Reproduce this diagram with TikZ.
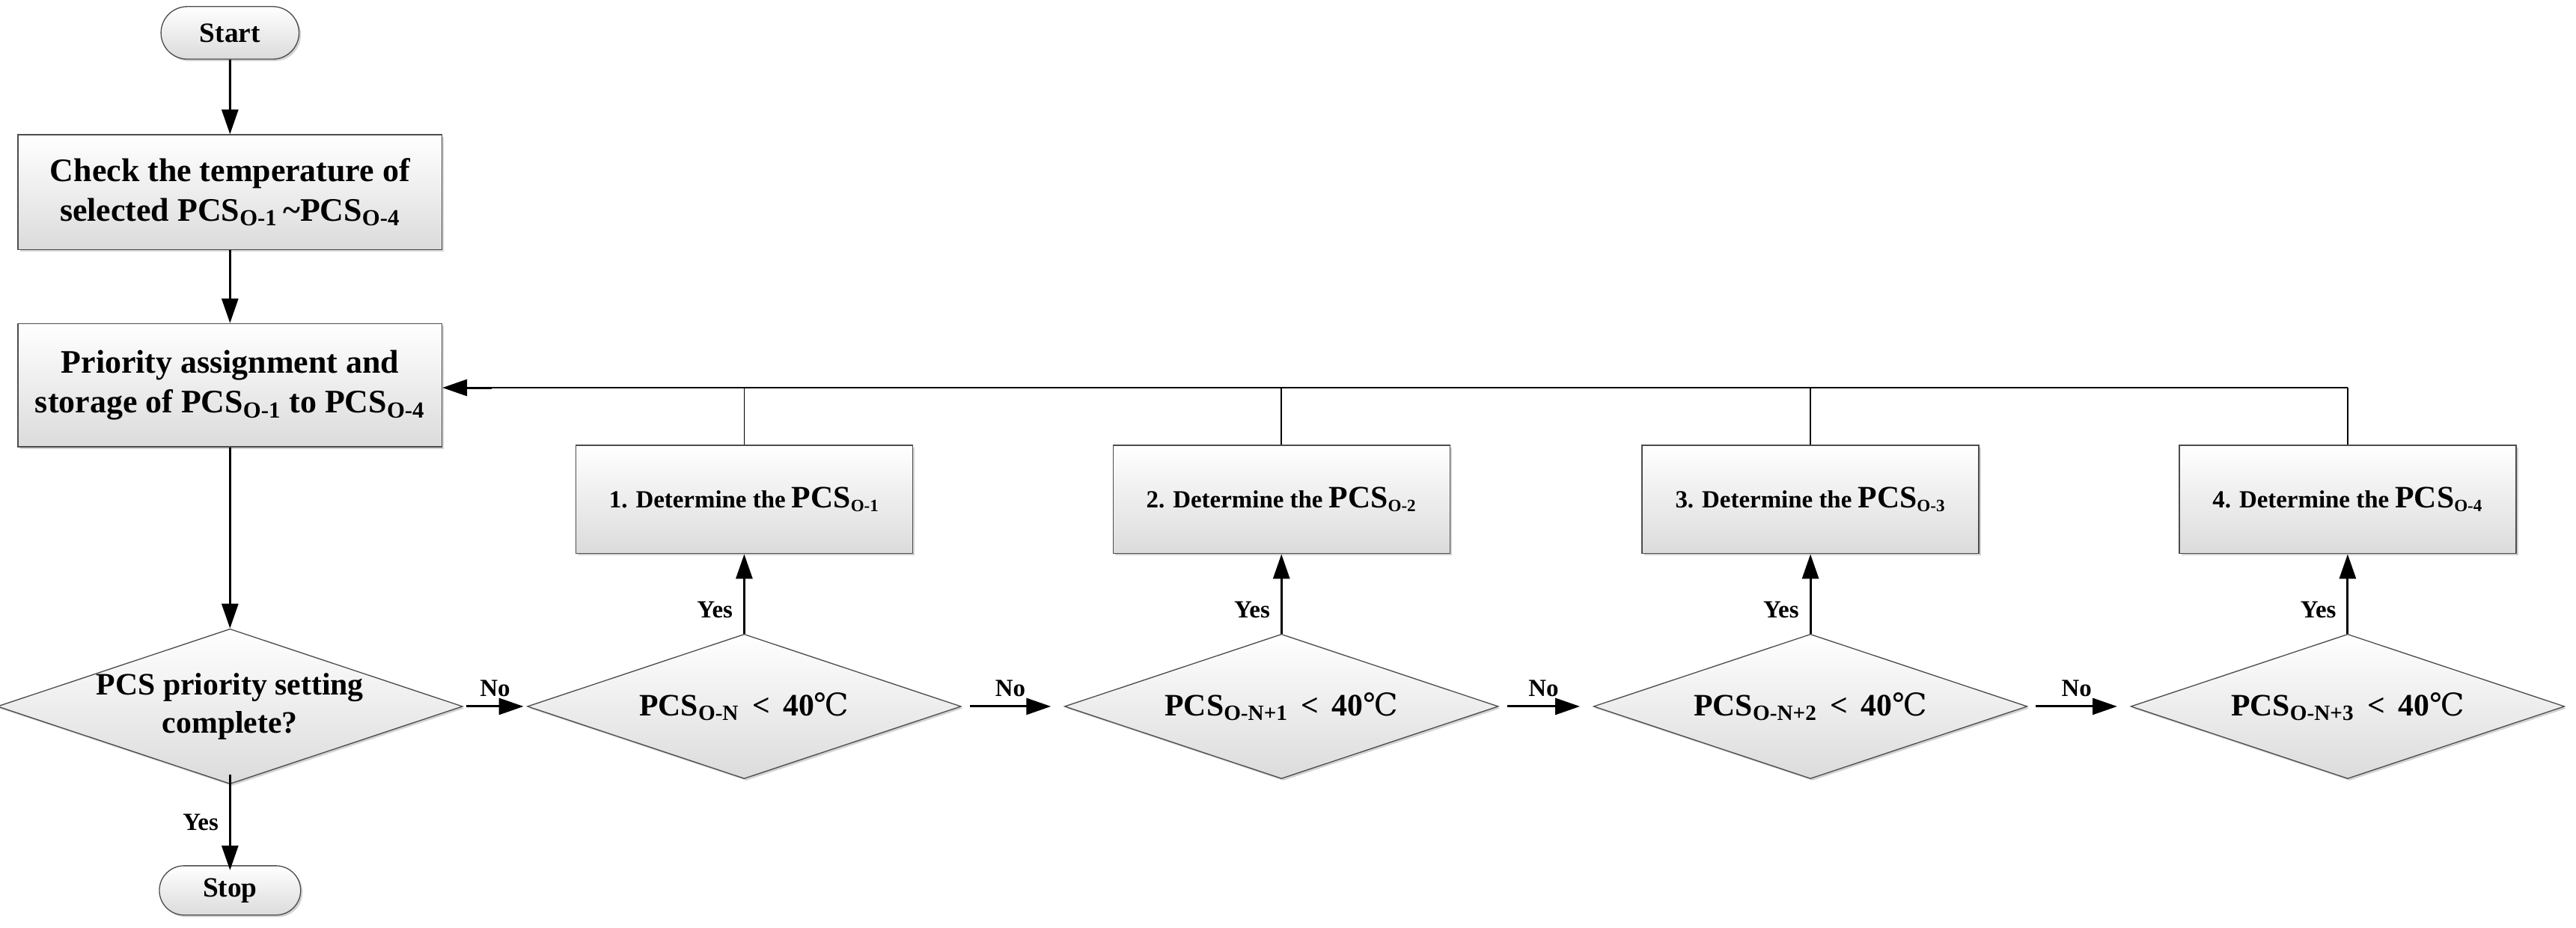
\documentclass[tikz,border=0pt]{standalone}
\usepackage{fontspec}
\setmainfont{Liberation Serif}
\newfontfamily\dvs{DejaVu Serif}
\usetikzlibrary{shapes.geometric,shapes.misc,shadows,arrows.meta}
\newcommand{\subo}[1]{\textsubscript{#1}}
\newcommand{\degc}{{\dvs\mdseries ℃}}
\begin{document}
\begin{tikzpicture}[x=1pt,y=-1pt,
  fillsh/.style={top color=white,bottom color=gray!28,draw=gray!60!black,line width=0.6pt,
     drop shadow={shadow xshift=1.2pt,shadow yshift=-1.2pt,opacity=0.35}},
  term/.style={fillsh,rounded rectangle,minimum width=84pt,minimum height=32pt,inner sep=0pt,font=\fontsize{17}{19}\selectfont\bfseries},
  box/.style={fillsh,rectangle,minimum width=258pt,inner sep=0pt,align=center,font=\fontsize{20}{24}\selectfont\bfseries},
  dbox/.style={fillsh,rectangle,minimum width=205pt,minimum height=66pt,inner sep=0pt,font=\fontsize{15}{17}\selectfont\bfseries},
  dia/.style={fillsh,diamond,aspect=3,minimum width=264pt,minimum height=88pt,inner sep=0pt,align=center,font=\fontsize{19}{23}\selectfont\bfseries},
  arr/.style={-{Triangle[length=15pt,width=10pt]},line width=1.4pt},
  ln/.style={line width=0.8pt},
  lab/.style={font=\fontsize{15}{17}\selectfont\bfseries}]
\useasboundingbox (0,0) rectangle (1568,564.5);
\node[term] (start) at (140,20) {Start};
\node[box,minimum height=70pt] (b1) at (140,117) {Check the temperature of\\selected PCS\subo{O-1}\,\textasciitilde PCS\subo{O-4}};
\node[box,minimum height=75pt] (b2) at (140,234.5) {Priority assignment and\\storage of PCS\subo{O-1} to PCS\subo{O-4}};
\node[dia] (d0) at (140,430) {PCS priority setting\\complete?};
\node[term,minimum width=86pt,minimum height=30pt] (stop) at (140,542) {Stop};
\node[dia] (d1) at (453,430) {PCS\subo{O-N} \,<\, 40\degc};
\node[dia] (d2) at (780,430) {PCS\subo{O-N+1} \,<\, 40\degc};
\node[dia] (d3) at (1102,430) {PCS\subo{O-N+2} \,<\, 40\degc};
\node[dia] (d4) at (1429,430) {PCS\subo{O-N+3} \,<\, 40\degc};
\node[dbox] (p1) at (453,304) {1. Determine the {\fontsize{19}{19}\selectfont PCS}\subo{O-1}};
\node[dbox] (p2) at (780,304) {2. Determine the {\fontsize{19}{19}\selectfont PCS}\subo{O-2}};
\node[dbox] (p3) at (1102,304) {3. Determine the {\fontsize{19}{19}\selectfont PCS}\subo{O-3}};
\node[dbox] (p4) at (1429,304) {4. Determine the {\fontsize{19}{19}\selectfont PCS}\subo{O-4}};
\coordinate (t4) at (1429,236);
\draw[arr] (start) -- (b1);
\draw[arr] (b1) -- (b2);
\draw[arr] (b2) -- (d0);
\draw[arr] ([yshift=6pt]d0.south) -- node[lab,left=3pt]{Yes} ([yshift=-3pt]stop.north);
\draw[arr] ([xshift=2pt]d0.east) -- node[lab,above=2pt]{No} ([xshift=-2pt]d1.west);
\draw[arr] ([xshift=5pt]d1.east) -- node[lab,above=2pt]{No} ([xshift=-8pt]d2.west);
\draw[arr] ([xshift=5pt]d2.east) -- node[lab,above=2pt]{No} ([xshift=-8pt]d3.west);
\draw[arr] ([xshift=5pt]d3.east) -- node[lab,above=2pt]{No} ([xshift=-8pt]d4.west);
\foreach \i in {1,2,3,4}{
  \draw[arr] (d\i.north) -- node[lab,left=3pt,pos=0.3]{Yes} (p\i.south);
  \draw[ln] (p\i.north) -- (p\i.north |- t4);
}
\draw[ln] (t4) -- ([xshift=30pt]b2.east |- t4);
\draw[arr] ([xshift=30pt]b2.east |- t4) -- (b2.east |- t4);
\end{tikzpicture}
\end{document}
